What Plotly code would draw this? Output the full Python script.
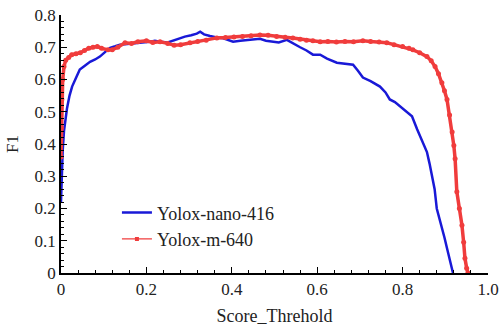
import plotly.graph_objects as go

# Yolox-nano-416
nano_x = [0, 0.001, 0.002, 0.004, 0.007, 0.010, 0.014, 0.020, 0.026, 0.035,
          0.044, 0.055, 0.068, 0.080, 0.091, 0.103, 0.115, 0.127, 0.138, 0.155,
          0.175, 0.190, 0.208, 0.220, 0.232, 0.250, 0.265, 0.279, 0.290, 0.305,
          0.318, 0.326, 0.335, 0.349, 0.365, 0.380, 0.403, 0.420, 0.440, 0.466,
          0.480, 0.496, 0.510, 0.529, 0.545, 0.560, 0.575, 0.590, 0.607, 0.623,
          0.646, 0.665, 0.684, 0.695, 0.707, 0.725, 0.747, 0.760, 0.770, 0.782,
          0.794, 0.808, 0.822, 0.834, 0.845, 0.857, 0.863, 0.869, 0.875, 0.880,
          0.886, 0.892, 0.898, 0.904, 0.911, 0.918]
nano_f1 = [0.22, 0.28, 0.33, 0.38, 0.44, 0.48, 0.51, 0.55, 0.578, 0.605,
           0.631, 0.642, 0.655, 0.662, 0.671, 0.685, 0.698, 0.703, 0.708, 0.710,
           0.712, 0.715, 0.717, 0.720, 0.717, 0.715, 0.722, 0.729, 0.733, 0.737,
           0.742, 0.748, 0.740, 0.735, 0.730, 0.728, 0.717, 0.720, 0.722, 0.726,
           0.720, 0.717, 0.715, 0.723, 0.710, 0.700, 0.690, 0.677, 0.677, 0.665,
           0.652, 0.648, 0.646, 0.628, 0.606, 0.595, 0.578, 0.560, 0.538, 0.530,
           0.517, 0.500, 0.486, 0.446, 0.410, 0.375, 0.340, 0.302, 0.260, 0.200,
           0.170, 0.148, 0.110, 0.077, 0.040, 0.000]

# Yolox-m-640
m_x = [0, 0.001, 0.002, 0.004, 0.007, 0.011, 0.018, 0.025, 0.035, 0.045,
       0.055, 0.065, 0.075, 0.085, 0.095, 0.110, 0.120, 0.133, 0.150, 0.165,
       0.180, 0.200, 0.215, 0.232, 0.250, 0.265, 0.280, 0.302, 0.320, 0.340,
       0.365, 0.385, 0.405, 0.425, 0.445, 0.466, 0.485, 0.505, 0.525, 0.543,
       0.560, 0.575, 0.590, 0.607, 0.625, 0.645, 0.665, 0.685, 0.707, 0.725,
       0.745, 0.763, 0.780, 0.800, 0.815, 0.824, 0.840, 0.857, 0.867, 0.876,
       0.884, 0.892, 0.898, 0.904, 0.910, 0.916, 0.920, 0.923, 0.927, 0.933,
       0.939, 0.943, 0.946, 0.950, 0.953]
m_f1 = [0.36, 0.45, 0.538, 0.60, 0.64, 0.66, 0.668, 0.677, 0.680, 0.683,
        0.690, 0.697, 0.700, 0.702, 0.697, 0.692, 0.692, 0.700, 0.714, 0.712,
        0.717, 0.720, 0.715, 0.717, 0.712, 0.706, 0.708, 0.714, 0.718, 0.722,
        0.729, 0.730, 0.732, 0.733, 0.736, 0.738, 0.737, 0.733, 0.731, 0.729,
        0.725, 0.722, 0.720, 0.717, 0.718, 0.716, 0.718, 0.717, 0.720, 0.718,
        0.716, 0.714, 0.708, 0.702, 0.697, 0.692, 0.683, 0.671, 0.658, 0.640,
        0.618, 0.590, 0.565, 0.538, 0.490, 0.437, 0.395, 0.354, 0.252, 0.200,
        0.148, 0.095, 0.046, 0.015, 0.000]

x_ticks = [0, 0.2, 0.4, 0.6, 0.8, 1.0]
x_labels = ["0", "0.2", "0.4", "0.6", "0.8", "1.0"]
y_ticks = [0, 0.1, 0.2, 0.3, 0.4, 0.5, 0.6, 0.7, 0.8]
y_labels = ["0", "0.1", "0.2", "0.3", "0.4", "0.5", "0.6", "0.7", "0.8"]

FONT = "Liberation Serif"
BLUE = "rgb(25,25,215)"
RED = "rgb(240,60,60)"

fig = go.Figure()
fig.add_trace(go.Scatter(
    x=nano_x, y=nano_f1, mode="lines", name="Yolox-nano-416", showlegend=False,
    line=dict(color=BLUE, width=2.5),
))
fig.add_trace(go.Scatter(
    x=m_x, y=m_f1, mode="lines+markers", name="Yolox-m-640", showlegend=False,
    line=dict(color=RED, width=3.5),
    marker=dict(color=RED, size=5, symbol="circle"),
))
# legend entries (thin samples as in the original legend)
fig.add_trace(go.Scatter(
    x=[None], y=[None], mode="lines", name="Yolox-nano-416",
    line=dict(color=BLUE, width=2.5),
))
fig.add_trace(go.Scatter(
    x=[None], y=[None], mode="lines+markers", name="Yolox-m-640",
    line=dict(color=RED, width=1.2),
    marker=dict(color=RED, size=4, symbol="square"),
))

axis_common = dict(
    showline=True, linecolor="black", linewidth=1.5, mirror=False,
    showgrid=False, zeroline=False, automargin=False,
    ticks="inside", ticklen=6, tickwidth=1.2, tickcolor="black",
    tickfont=dict(family=FONT, size=17, color="#222"),
)

fig.update_xaxes(
    range=[0, 1.0], tickmode="array", tickvals=x_ticks, ticktext=x_labels,
    minor=dict(dtick=0.04, ticks="inside", ticklen=3, tickwidth=1, tickcolor="black"),
    title=dict(text="Score_Threhold", font=dict(family=FONT, size=18, color="#222"), standoff=11),
    **axis_common,
)
fig.update_yaxes(
    range=[0, 0.8], tickmode="array", tickvals=y_ticks, ticktext=y_labels,
    minor=dict(dtick=0.02, ticks="inside", ticklen=3, tickwidth=1, tickcolor="black"),
    title=dict(text="F1", font=dict(family=FONT, size=17, color="#222"), standoff=12),
    **axis_common,
)

fig.update_layout(
    width=502, height=327,
    margin=dict(l=61, r=14, t=15, b=54),
    plot_bgcolor="white", paper_bgcolor="white",
    showlegend=True,
    legend=dict(
        x=0.131, y=0.305, xanchor="left", yanchor="top",
        bgcolor="rgba(0,0,0,0)", borderwidth=0, tracegroupgap=0,
        font=dict(family=FONT, size=18, color="#222"),
    ),
)

fig.write_html("out.html")
